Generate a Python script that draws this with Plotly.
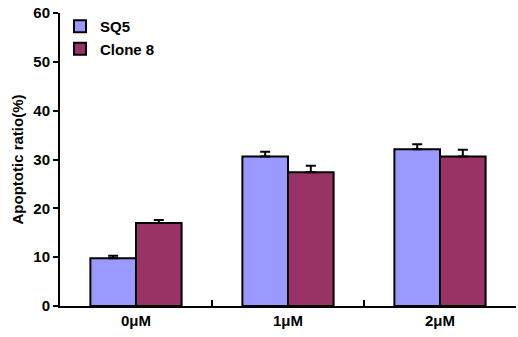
import plotly.graph_objects as go

categories = ["0μM", "1μM", "2μM"]
sq5_values = [9.8, 30.6, 32.1]
sq5_errors = [0.5, 1.0, 1.0]
clone8_values = [17.0, 27.4, 30.6]
clone8_errors = [0.6, 1.3, 1.4]
y_ticks = [0, 10, 20, 30, 40, 50, 60]

font = dict(family="Liberation Sans, Arial, sans-serif", size=15, color="black", weight="bold")
title_font = dict(family="Liberation Sans, Arial, sans-serif", size=15, color="black", weight="bold")

fig = go.Figure()
fig.add_trace(go.Bar(
    name="SQ5", x=categories, y=sq5_values,
    marker=dict(color="#9999FF", line=dict(color="black", width=2)),
    error_y=dict(type="data", array=sq5_errors, symmetric=False, arrayminus=[0]*3,
                 color="black", thickness=2, width=5),
))
fig.add_trace(go.Bar(
    name="Clone 8", x=categories, y=clone8_values,
    marker=dict(color="#993366", line=dict(color="black", width=2)),
    error_y=dict(type="data", array=clone8_errors, symmetric=False, arrayminus=[0]*3,
                 color="black", thickness=2, width=5),
))

fig.update_layout(
    width=518, height=337,
    margin=dict(l=60, r=2, t=13, b=31),
    paper_bgcolor="white", plot_bgcolor="white",
    barmode="group", bargap=0.4, bargroupgap=0,
    font=font,
    legend=dict(x=0.0, y=1.01, xanchor="left", yanchor="top",
                bgcolor="rgba(0,0,0,0)", font=font, tracegroupgap=4),
    xaxis=dict(showline=True, linecolor="black", linewidth=2,
               ticks="inside", tickson="boundaries", ticklen=6, tickwidth=2,
               tickcolor="black", showgrid=False, tickfont=font),
    yaxis=dict(range=[0, 60], tickvals=y_ticks, showline=True, linecolor="black",
               linewidth=2, ticks="outside", ticklen=5, tickwidth=2, tickcolor="black",
               showgrid=False, zeroline=False, tickfont=font,
               title=dict(text="Apoptotic ratio(%)", font=title_font, standoff=6)),
)

fig.write_html("out.html")
